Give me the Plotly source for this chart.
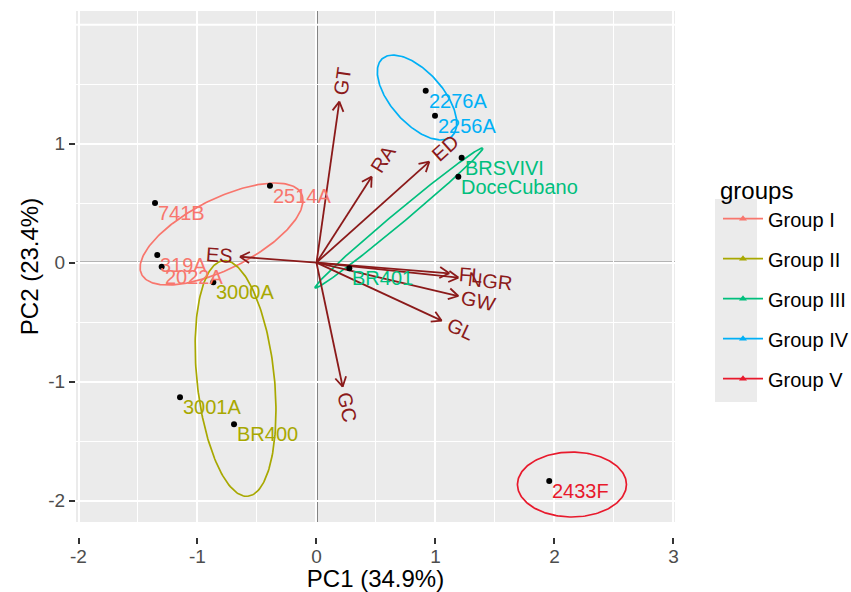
import numpy as np
import plotly.graph_objects as go

# ---------------- data ----------------
samples = ["741B", "2514A", "319A", "2022A", "3000A", "3001A", "BR400",
           "2276A", "2256A", "BRSVIVI", "DoceCubano", "BR401", "2433F"]
sample_groups = ["Group I", "Group I", "Group I", "Group I", "Group II", "Group II", "Group II",
                 "Group IV", "Group IV", "Group III", "Group III", "Group III", "Group V"]
pc1 = [-1.357, -0.391, -1.338, -1.301, -0.867, -1.147, -0.693,
       0.918, 0.996, 1.220, 1.192, 0.276, 1.956]
pc2 = [0.502, 0.647, 0.065, -0.034, -0.165, -1.131, -1.358,
       1.445, 1.235, 0.882, 0.723, -0.047, -1.834]

var_names = ["GT", "RA", "ED", "ES", "FL", "NGR", "GW", "GL", "GC"]
var_pc1 = [0.192, 0.464, 0.948, -0.643, 1.116, 1.192, 1.192, 1.052, 0.220]
var_pc2 = [1.353, 0.723, 0.849, 0.050, -0.089, -0.125, -0.280, -0.487, -1.042]

groups = ["Group I", "Group II", "Group III", "Group IV", "Group V"]
group_colors = ["#F8766D", "#A8A800", "#00BF7D", "#00B0F6", "#E8192C"]
ell_cx = [-0.798, -0.680, 0.693, 0.845, 2.147]
ell_cy = [0.241, -0.973, 0.376, 1.388, -1.864]
ell_a = [0.752, 0.995, 0.917, 0.438, 0.458]
ell_b = [0.294, 0.325, 0.050, 0.217, 0.273]
ell_angle = [26.8, -84.0, 39.8, -48.2, 0.0]

x_ticks = [-2, -1, 0, 1, 2, 3]
x_tick_labels = ["-2", "-1", "0", "1", "2", "3"]
y_ticks = [-2, -1, 0, 1]
y_tick_labels = ["-2", "-1", "0", "1"]
x_title = "PC1 (34.9%)"
y_title = "PC2 (23.4%)"
legend_title = "groups"

# ---------------- style ----------------
FONT = "Liberation Sans, Arial, Helvetica, sans-serif"
ARROW_COL = "#8B1A1A"
PX_PER_UNIT = 119.0
XR = [-2.021, 3.013]
YR = [-2.179, 2.115]
color_of = dict(zip(groups, group_colors))

fig = go.Figure()

# reference lines through origin
fig.add_shape(type="line", xref="x", yref="y", x0=0, x1=0, y0=YR[0], y1=YR[1],
              line=dict(color="#111111", width=2), layer="below")
fig.add_shape(type="line", xref="x", yref="y", x0=XR[0], x1=XR[1], y0=0, y1=0,
              line=dict(color="#111111", width=2), layer="below")
# unlabeled major grid line at y = 2
fig.add_shape(type="line", xref="x", yref="y", x0=XR[0], x1=XR[1], y0=2, y1=2,
              line=dict(color="white", width=2), layer="below")

# ellipses
t = np.linspace(0, 2 * np.pi, 200)
for g, c, cx, cy, a, b, ang in zip(groups, group_colors, ell_cx, ell_cy, ell_a, ell_b, ell_angle):
    th = np.deg2rad(ang)
    ex = cx + a * np.cos(t) * np.cos(th) - b * np.sin(t) * np.sin(th)
    ey = cy + a * np.cos(t) * np.sin(th) + b * np.sin(t) * np.cos(th)
    fig.add_trace(go.Scatter(x=ex, y=ey, mode="lines", line=dict(color=c, width=1.7),
                             showlegend=False, hoverinfo="skip"))

# arrows (shaft + open head)
head_len = 11.0 / PX_PER_UNIT
ax_, ay_ = [], []
for vx, vy in zip(var_pc1, var_pc2):
    ang = np.arctan2(vy, vx)
    ax_ += [0, vx, None]
    ay_ += [0, vy, None]
    for s in (+1, -1):
        ha = ang + np.pi + s * np.deg2rad(30)
        ax_ += [vx, vx + head_len * np.cos(ha), None]
        ay_ += [vy, vy + head_len * np.sin(ha), None]
fig.add_trace(go.Scatter(x=ax_, y=ay_, mode="lines", line=dict(color=ARROW_COL, width=1.8),
                         showlegend=False, hoverinfo="skip"))

# sample points
fig.add_trace(go.Scatter(x=pc1, y=pc2, mode="markers",
                         marker=dict(color="black", size=6), showlegend=False,
                         hoverinfo="skip"))

annotations = []
# sample labels (below-right of each point)
for name, g, x, y in zip(samples, sample_groups, pc1, pc2):
    annotations.append(dict(x=x, y=y, xref="x", yref="y", text=name, showarrow=False,
                            xanchor="left", yanchor="top", xshift=1, yshift=3,
                            font=dict(family=FONT, size=20, color=color_of[g])))

# variable labels, rotated along arrow, placed beyond the tip
for name, vx, vy in zip(var_names, var_pc1, var_pc2):
    deg = np.degrees(np.arctan(vy / vx))
    w = 0.70 * 20 * len(name)
    out = np.arctan2(vy, vx)
    off = 0.75 * w
    annotations.append(dict(x=vx, y=vy, xref="x", yref="y", text=name, showarrow=False,
                            xanchor="center", yanchor="middle",
                            xshift=off * np.cos(out), yshift=off * np.sin(out),
                            textangle=-deg,
                            font=dict(family=FONT, size=20, color=ARROW_COL)))

# legend entries
for g, c in zip(groups, group_colors):
    fig.add_trace(go.Scatter(x=[None], y=[None], mode="lines+markers", name=g,
                             legendgroup=g,
                             line=dict(color=c, width=1.8),
                             marker=dict(color=c, size=7, symbol="triangle-up")))

# legend key background
fig.add_shape(type="rect", xref="paper", yref="paper",
              x0=(715 - 76) / 599, x1=(757 - 76) / 599,
              y0=(537 - 402) / 526, y1=(537 - 199) / 526,
              fillcolor="#EBEBEB", line=dict(width=0), layer="below")

fig.update_layout(
    width=851, height=592,
    margin=dict(l=76, r=176, t=11, b=55, autoexpand=False),
    paper_bgcolor="white", plot_bgcolor="#EBEBEB",
    font=dict(family=FONT, size=20, color="#4D4D4D"),
    annotations=annotations,
    showlegend=True,
    legend=dict(x=(718 - 76) / 599, xanchor="left", y=(537 - 168) / 526, yanchor="top",
                bgcolor="rgba(0,0,0,0)", itemwidth=40, tracegroupgap=11,
                title=dict(text=legend_title, font=dict(family=FONT, size=24, color="black")),
                font=dict(family=FONT, size=20, color="black")),
    xaxis=dict(range=XR, domain=[0, 1], anchor="free", position=0, automargin=False,
               tickvals=x_ticks, ticktext=x_tick_labels,
               ticks="outside", ticklen=6, tickwidth=1.5, tickcolor="#333333",
               ticklabelstandoff=-4,
               showgrid=True, gridcolor="white", gridwidth=2, zeroline=False,
               minor=dict(dtick=0.5, tick0=0, showgrid=True, gridcolor="white", gridwidth=1),
               tickfont=dict(family=FONT, size=19, color="#4D4D4D"),
               title=dict(text=x_title, font=dict(family=FONT, size=24, color="black"), standoff=4),
               showline=False),
    yaxis=dict(range=YR, domain=[15 / 526, 1], anchor="x", automargin=False,
               tickvals=y_ticks, ticktext=y_tick_labels,
               ticks="outside", ticklen=6, tickwidth=1.5, tickcolor="#333333",
               showgrid=True, gridcolor="white", gridwidth=2, zeroline=False,
               minor=dict(tickvals=[-1.5, -0.5, 0.5, 1.5], showgrid=True, gridcolor="white", gridwidth=1),
               tickfont=dict(family=FONT, size=19, color="#4D4D4D"),
               title=dict(text=y_title, font=dict(family=FONT, size=24, color="black"), standoff=2),
               showline=False),
)

fig.write_html("out.html", config={"displayModeBar": False},
               post_script="document.body.style.margin='0';document.body.style.padding='0';")
